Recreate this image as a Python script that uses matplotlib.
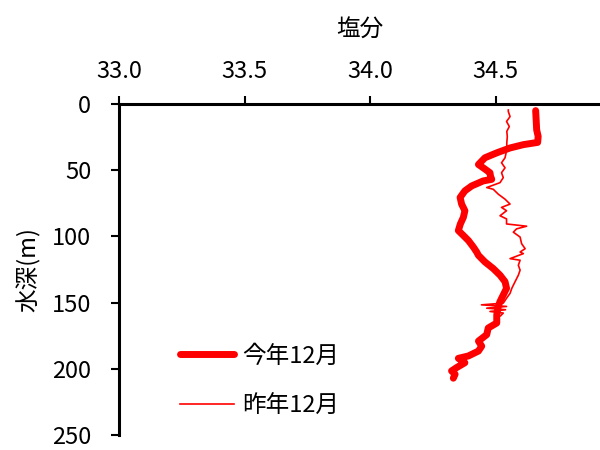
import matplotlib
matplotlib.use("Agg")
import matplotlib.pyplot as plt

plt.rcParams['font.family'] = ['Noto Sans CJK JP', 'DejaVu Sans']

# 今年12月
depth_this = [5, 12, 19.5, 24.5, 29, 30.7, 33.2, 36.9, 40.6, 45.7, 48.2, 51.9, 54.4, 56.9, 58.1,
              61.9, 65.6, 70.6, 75.6, 80.6, 85.6, 90.6, 95.6, 99.3, 103.1, 108.1, 111.8, 114.3,
              119.3, 124.3, 129.3, 134.2, 139.2, 144.2, 149.2, 152.9, 159.2, 165.4, 169.2, 174.2,
              179.1, 182.9, 186.6, 190.3, 192.1, 195.4, 199.1, 201.6, 204.1, 207.1]
sal_this = [34.660, 34.662, 34.664, 34.670, 34.668, 34.611, 34.558, 34.505, 34.458, 34.432, 34.451,
            34.478, 34.480, 34.485, 34.451, 34.405, 34.378, 34.359, 34.365, 34.378, 34.372, 34.360,
            34.352, 34.372, 34.392, 34.412, 34.425, 34.432, 34.458, 34.491, 34.518, 34.538, 34.544,
            34.531, 34.518, 34.511, 34.505, 34.505, 34.471, 34.465, 34.432, 34.445, 34.432, 34.392,
            34.352, 34.378, 34.345, 34.325, 34.339, 34.332]

# 昨年12月
depth_last = [4.5, 5.7, 9.5, 13.2, 17.0, 20.7, 24.5, 29.4, 34.4, 40.6, 44.4, 48.2, 51.9, 55.6, 59.4,
              63.1, 64.4, 68.1, 71.9, 75.6, 78.1, 80.6, 84.4, 86.8, 90.6, 92.3, 94.3, 96.8, 100.5,
              105.5, 109.3, 111.8, 113, 116.8, 118, 121.8, 125.5, 129.3, 134.2, 139.2, 143, 146.7,
              150.4, 151.7, 152.9, 154.2, 155.4, 156.7, 157.9, 160]
sal_last = [34.551, 34.551, 34.558, 34.544, 34.555, 34.545, 34.547, 34.545, 34.545, 34.538, 34.524,
            34.538, 34.524, 34.531, 34.518, 34.465, 34.491, 34.511, 34.538, 34.558, 34.524, 34.544,
            34.518, 34.544, 34.544, 34.624, 34.584, 34.571, 34.598, 34.604, 34.618, 34.598, 34.611,
            34.558, 34.598, 34.591, 34.598, 34.591, 34.578, 34.565, 34.558, 34.544, 34.531, 34.444,
            34.544, 34.465, 34.540, 34.478, 34.531, 34.52]

xticks = [33.0, 33.5, 34.0, 34.5]
yticks = [0, 50, 100, 150, 200, 250]

fig = plt.figure(figsize=(6, 4.5), dpi=100)
ax = fig.add_axes([119/600, 15/450, 481/600, 331/450])

ax.plot(sal_this, depth_this, color='#ff0000', lw=5, solid_capstyle='round',
        solid_joinstyle='round', label='今年12月')
ax.plot(sal_last, depth_last, color='#ff0000', lw=1.2, label='昨年12月')

ax.set_xlim(33.0, 33.0 + 481/251)
ax.set_ylim(250, 0)

ax.xaxis.tick_top()
ax.xaxis.set_label_position('top')
ax.set_xticks(xticks)
ax.set_xticklabels(['%.1f' % v for v in xticks])
ax.set_yticks(yticks)

ax.spines['right'].set_visible(False)
ax.spines['bottom'].set_visible(False)
ax.spines['top'].set_linewidth(2.2)
ax.spines['left'].set_linewidth(2.2)
ax.tick_params(axis='x', direction='out', length=6, width=1.5, labelsize=17, pad=9)
ax.tick_params(axis='y', direction='out', length=6, width=1.5, labelsize=17, pad=14)

ax.set_xlabel('塩分', fontsize=17, labelpad=17)
ax.set_ylabel('水深(m)', fontsize=17, labelpad=8)

fig.legend(loc='center left', bbox_to_anchor=(180/600, 1 - 381/450), frameon=False,
           fontsize=17, handlelength=2.3, handletextpad=0.35, labelspacing=1.15,
           borderpad=0, borderaxespad=0)

fig.savefig('out.png', dpi=100)
